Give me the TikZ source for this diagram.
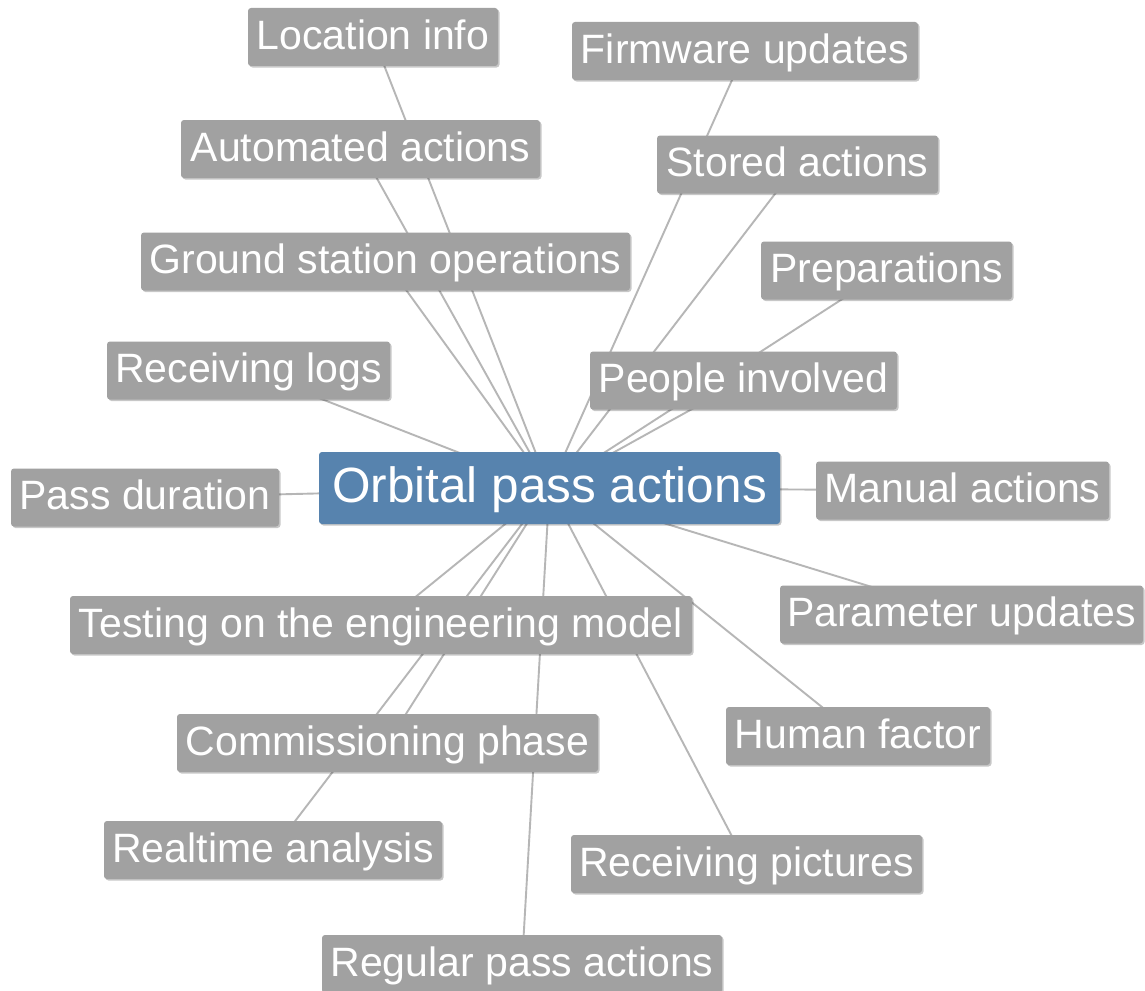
\documentclass[tikz,border=0pt]{standalone}
\usepackage{fontspec}
\setmainfont{Liberation Sans}
\usetikzlibrary{shadows}
\pgfdeclarelayer{paper}
\pgfdeclarelayer{links}
\pgfsetlayers{paper,links,main}
\definecolor{leafgray}{RGB}{161,161,161}
\definecolor{hubblue}{RGB}{87,131,174}
\definecolor{linkgray}{RGB}{182,182,182}
\tikzset{
  boxbase/.style={rectangle, rounded corners=3pt, inner sep=0pt, text=white,
    drop shadow={shadow xshift=1.5pt, shadow yshift=-1.5pt, opacity=0.22, fill=black}},
  leaf/.style={boxbase, fill=leafgray, font=\fontsize{41}{49}\selectfont,
    text height=29.5pt, text depth=5pt, minimum height=58pt},
  hub/.style={boxbase, fill=hubblue, font=\fontsize{49.5}{58}\selectfont,
    text height=35.5pt, text depth=6pt, minimum height=72pt, minimum width=461pt},
  link/.style={draw=linkgray, line width=1.9pt}
}
\begin{document}
\begin{tikzpicture}[x=1pt, y=-1pt]
\clip (0,0) rectangle (1145,990);
\begin{pgfonlayer}{paper}
\fill[white] (0,0) rectangle (1145,990);
\end{pgfonlayer}

% central topic
\node[hub] (hub) at (549.5,488) {Orbital pass actions};

% surrounding topics
\node[leaf, minimum width=250pt] (loc)    at (373,37)      {Location info};
\node[leaf, minimum width=346pt] (firm)   at (745,51)      {Firmware updates};
\node[leaf, minimum width=359pt] (auto)   at (360.5,149)   {Automated actions};
\node[leaf, minimum width=281pt] (stored) at (797.5,164.5) {Stored actions};
\node[leaf, minimum width=489pt] (ground) at (385.5,261.5) {Ground station operations};
\node[leaf, minimum width=251pt] (prep)   at (886.5,270.5) {Preparations};
\node[leaf, minimum width=283pt] (logs)   at (248.5,370.5) {Receiving logs};
\node[leaf, minimum width=307pt] (people) at (743.5,380.5) {People involved};
\node[leaf, minimum width=268pt] (dur)    at (145,497.5)   {Pass duration};
\node[leaf, minimum width=293pt] (manual) at (962.5,490.5) {Manual actions};
\node[leaf, minimum width=622pt] (test)   at (381,625)     {Testing on the engineering model};
\node[leaf, minimum width=363pt] (param)  at (961.5,614.5) {Parameter updates};
\node[leaf, minimum width=421pt] (comm)   at (387.5,743)   {Commissioning phase};
\node[leaf, minimum width=264pt] (human)  at (858,736)     {Human factor};
\node[leaf, minimum width=338pt] (real)   at (273,850)     {Realtime analysis};
\node[leaf, minimum width=351pt] (pics)   at (746.5,864)   {Receiving pictures};
\node[leaf, minimum width=400pt] (reg)    at (522,964)     {Regular pass actions};

% connectors run centre to centre, behind every box
\begin{pgfonlayer}{links}
\foreach \n in {loc,firm,auto,stored,ground,prep,logs,people,dur,manual,test,param,comm,human,real,pics,reg}
  \draw[link] (hub.center) -- (\n.center);
\end{pgfonlayer}
\end{tikzpicture}
\end{document}
